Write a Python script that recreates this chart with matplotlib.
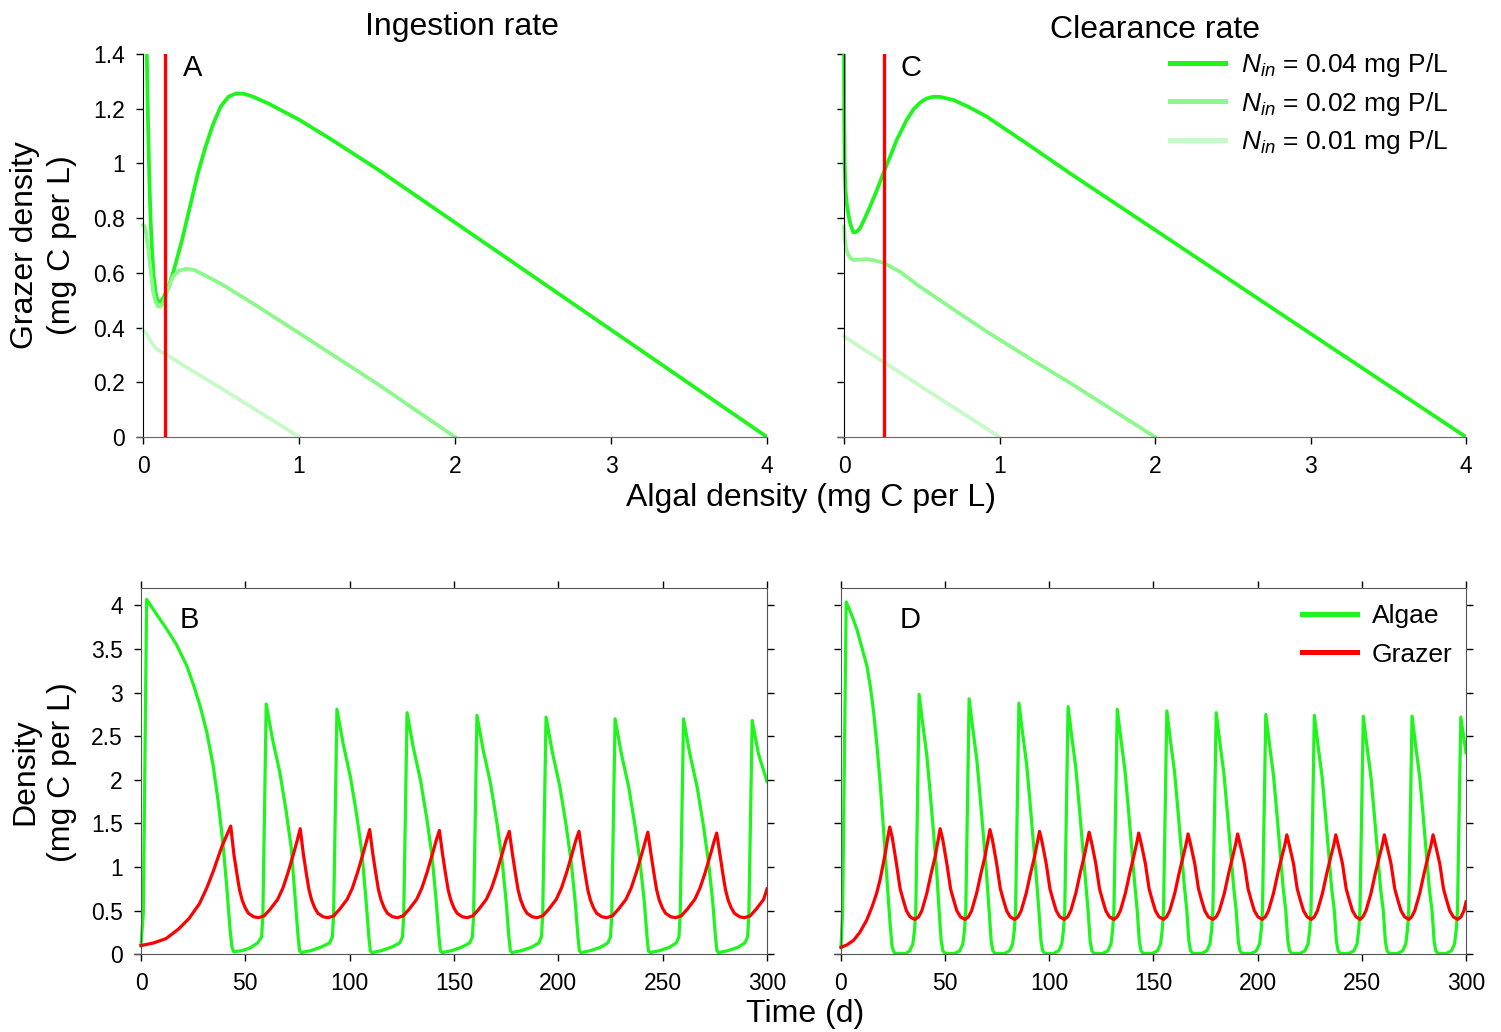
import matplotlib
matplotlib.use('Agg')
import matplotlib.pyplot as plt
from matplotlib.lines import Line2D

plt.rcParams['font.family'] = ['Liberation Sans', 'DejaVu Sans']
plt.rcParams['mathtext.fontset'] = 'custom'
plt.rcParams['mathtext.rm'] = 'Liberation Sans'
plt.rcParams['mathtext.it'] = 'Liberation Sans:italic'

GREEN = '#1df51d'
GREEN_MID = '#8cf88c'
GREEN_LIGHT = '#c8fac8'
RED = '#ff0000'

# ---- top panels: grazer nullclines (algal density vs grazer density) ----
# A: ingestion rate
xa_hi = [0.018, 0.024, 0.032, 0.040, 0.048, 0.058, 0.068, 0.080, 0.092, 0.105,
         0.120, 0.140, 0.170, 0.200, 0.250, 0.300, 0.350, 0.400, 0.450, 0.500,
         0.550, 0.600, 0.650, 0.700, 0.800, 0.900, 1.000, 1.200, 1.500, 2.000,
         2.500, 3.000, 3.500, 4.000]
ya_hi = [1.55, 1.40, 1.15, 0.95, 0.80, 0.68, 0.59, 0.53, 0.50, 0.494,
         0.50, 0.52, 0.56, 0.615, 0.72, 0.84, 0.96, 1.06, 1.145, 1.21,
         1.245, 1.256, 1.254, 1.245, 1.22, 1.19, 1.16, 1.09, 0.98, 0.784,
         0.588, 0.392, 0.196, 0.0]
xa_mid = [0.0, 0.010, 0.020, 0.035, 0.050, 0.065, 0.080, 0.095, 0.110, 0.130,
          0.160, 0.190, 0.230, 0.280, 0.330, 0.400, 0.500, 0.700, 1.000, 1.500, 2.000]
ya_mid = [0.775, 0.77, 0.745, 0.68, 0.60, 0.53, 0.495, 0.478, 0.476, 0.49,
          0.54, 0.585, 0.608, 0.615, 0.61, 0.59, 0.56, 0.49, 0.38, 0.195, 0.0]
xa_lo = [0.0, 0.020, 0.050, 0.080, 0.120, 0.160, 0.250, 0.500, 0.750, 1.000]
ya_lo = [0.39, 0.38, 0.35, 0.325, 0.31, 0.298, 0.265, 0.178, 0.09, 0.0]
algae_nullcline_a = 0.14

# C: clearance rate
xc_hi = [0.0, 0.001, 0.004, 0.010, 0.018, 0.028, 0.040, 0.060, 0.080, 0.103,
         0.130, 0.167, 0.210, 0.253, 0.300, 0.339, 0.403, 0.450, 0.489, 0.530,
         0.574, 0.620, 0.703, 0.800, 0.918, 1.200, 1.453, 2.000, 3.000, 4.000]
yc_hi = [1.45, 1.20, 1.00, 0.90, 0.85, 0.815, 0.78, 0.748, 0.75, 0.763,
         0.795, 0.842, 0.90, 0.964, 1.03, 1.086, 1.159, 1.20, 1.222, 1.237,
         1.244, 1.243, 1.232, 1.207, 1.171, 1.063, 0.964, 0.757, 0.378, 0.0]
xc_mid = [0.0, 0.006, 0.015, 0.028, 0.045, 0.060, 0.100, 0.146, 0.200, 0.253,
          0.300, 0.360, 0.489, 0.700, 0.918, 1.200, 1.453, 2.000]
yc_mid = [0.769, 0.72, 0.685, 0.665, 0.652, 0.647, 0.648, 0.650, 0.645, 0.637,
          0.622, 0.604, 0.549, 0.468, 0.385, 0.285, 0.198, 0.0]
xc_lo = [0.0, 0.020, 0.100, 0.253, 0.500, 0.750, 1.000]
yc_lo = [0.368, 0.36, 0.33, 0.275, 0.183, 0.092, 0.0]
algae_nullcline_c = 0.257

nin_labels = [r'$N_{in}$ = 0.04 mg P/L', r'$N_{in}$ = 0.02 mg P/L', r'$N_{in}$ = 0.01 mg P/L']

# ---- bottom panels: time series ----
# B: ingestion rate
t_b_algae = [0.0, 1.1, 2.7, 6.0, 12.3, 17.0, 21.9, 25.0, 28.3, 31.5, 34.6, 37.0, 39.4, 41.0, 42.7, 43.6, 44.4, 48.0, 52.0, 55.9, 57.8, 58.4,
             60.0, 63.0, 66.5, 69.5, 72.0, 74.0, 75.3, 76.0, 76.8, 81.0, 86.0, 90.4, 91.7, 92.3,
             93.9, 96.9, 100.4, 103.4, 105.9, 107.9, 109.2, 109.9, 110.7, 114.9, 119.9, 124.0, 125.3, 125.9,
             127.5, 130.5, 134.0, 137.0, 139.5, 141.5, 142.8, 143.5, 144.3, 148.5, 153.5, 157.5, 158.8, 159.4,
             161.0, 164.0, 167.5, 170.5, 173.0, 175.0, 176.3, 177.0, 177.8, 182.0, 187.0, 190.6, 191.9, 192.5,
             194.1, 197.1, 200.6, 203.6, 206.1, 208.1, 209.4, 210.1, 210.9, 215.1, 220.1, 223.7, 225.0, 225.6,
             227.2, 230.2, 233.7, 236.7, 239.2, 241.2, 242.5, 243.2, 244.0, 248.2, 253.2, 256.5, 257.8, 258.4,
             260.0, 263.0, 266.5, 269.5, 272.0, 274.0, 275.3, 276.0, 276.8, 281.0, 286.0, 289.4, 290.7, 291.3,
             292.9, 295.9, 300.0]
b_algae = [0.10, 0.47, 4.07, 3.95, 3.73, 3.55, 3.31, 3.10, 2.85, 2.55, 2.16, 1.75, 1.24, 0.80, 0.28, 0.08, 0.03, 0.04, 0.07, 0.13, 0.20, 0.45,
           2.87, 2.47, 2.09, 1.65, 1.22, 0.60, 0.20, 0.04, 0.02, 0.04, 0.08, 0.13, 0.20, 0.45,
           2.81, 2.41, 2.03, 1.59, 1.16, 0.60, 0.20, 0.04, 0.02, 0.04, 0.08, 0.13, 0.20, 0.45,
           2.77, 2.37, 1.99, 1.55, 1.12, 0.60, 0.20, 0.04, 0.02, 0.04, 0.08, 0.13, 0.20, 0.45,
           2.74, 2.34, 1.96, 1.52, 1.09, 0.60, 0.20, 0.04, 0.02, 0.04, 0.08, 0.13, 0.20, 0.45,
           2.72, 2.32, 1.94, 1.50, 1.07, 0.60, 0.20, 0.04, 0.02, 0.04, 0.08, 0.13, 0.20, 0.45,
           2.70, 2.30, 1.92, 1.48, 1.05, 0.60, 0.20, 0.04, 0.02, 0.04, 0.08, 0.13, 0.20, 0.45,
           2.70, 2.30, 1.92, 1.48, 1.05, 0.60, 0.20, 0.04, 0.02, 0.04, 0.08, 0.13, 0.20, 0.45,
           2.68, 2.30, 1.98]

t_b_grazer = [0.0, 6.0, 12.0, 18.0, 23.0, 28.0, 31.5, 34.6, 36.8, 38.8, 41.0, 43.0,
              44.5, 45.9, 47.2, 48.5, 50.0, 51.5, 54.0, 56.3, 59.0, 62.0, 65.5, 68.0, 70.5, 73.3, 74.8, 76.3,
              77.8, 79.2, 80.5, 81.8, 83.3, 84.8, 87.3, 89.6, 92.3, 95.3, 98.8, 101.3, 103.8, 106.6, 108.1, 109.6,
              111.1, 112.5, 113.8, 115.1, 116.6, 118.1, 120.6, 122.9, 125.6, 128.6, 132.1, 134.6, 137.1, 139.9, 141.4, 143.0,
              144.5, 145.9, 147.2, 148.5, 150.0, 151.5, 154.0, 156.3, 159.0, 162.0, 165.5, 168.0, 170.5, 173.3, 174.8, 176.5,
              178.0, 179.4, 180.7, 182.0, 183.5, 185.0, 187.5, 189.8, 192.5, 195.5, 199.0, 201.5, 204.0, 206.8, 208.3, 209.9,
              211.4, 212.8, 214.1, 215.4, 216.9, 218.4, 220.9, 223.2, 225.9, 228.9, 232.4, 234.9, 237.4, 240.2, 241.7, 242.9,
              244.4, 245.8, 247.1, 248.4, 249.9, 251.4, 253.9, 256.2, 258.9, 261.9, 265.4, 267.9, 270.4, 273.2, 274.7, 275.9,
              277.4, 278.8, 280.1, 281.4, 282.9, 284.4, 286.9, 289.2, 291.9, 294.9, 298.4, 300.0]
b_grazer = [0.10, 0.13, 0.18, 0.29, 0.41, 0.58, 0.76, 0.95, 1.10, 1.24, 1.36, 1.47,
            1.15, 0.93, 0.74, 0.62, 0.53, 0.47, 0.43, 0.42, 0.44, 0.52, 0.63, 0.76, 0.94, 1.17, 1.30, 1.44,
            1.15, 0.93, 0.74, 0.62, 0.53, 0.47, 0.43, 0.42, 0.44, 0.52, 0.63, 0.76, 0.94, 1.17, 1.30, 1.43,
            1.15, 0.93, 0.74, 0.62, 0.53, 0.47, 0.43, 0.42, 0.44, 0.52, 0.63, 0.76, 0.94, 1.17, 1.30, 1.42,
            1.15, 0.93, 0.74, 0.62, 0.53, 0.47, 0.43, 0.42, 0.44, 0.52, 0.63, 0.76, 0.94, 1.17, 1.30, 1.41,
            1.15, 0.93, 0.74, 0.62, 0.53, 0.47, 0.43, 0.42, 0.44, 0.52, 0.63, 0.76, 0.94, 1.17, 1.30, 1.41,
            1.15, 0.93, 0.74, 0.62, 0.53, 0.47, 0.43, 0.42, 0.44, 0.52, 0.63, 0.76, 0.94, 1.17, 1.30, 1.40,
            1.15, 0.93, 0.74, 0.62, 0.53, 0.47, 0.43, 0.42, 0.44, 0.52, 0.63, 0.76, 0.94, 1.17, 1.30, 1.39,
            1.15, 0.93, 0.74, 0.62, 0.53, 0.47, 0.43, 0.42, 0.44, 0.52, 0.63, 0.75]

# D: clearance rate
t_d_algae = [0.0, 0.8, 2.5, 5.0, 7.7, 10.0, 12.5, 14.2, 15.7, 17.3, 18.9, 20.5, 22.1, 23.4, 24.5, 25.5, 26.5, 31.0, 33.0, 34.5, 35.3, 35.9,
             37.5, 39.3, 41.2, 42.8, 44.3, 45.8, 47.1, 48.1, 48.9, 50.0, 54.5, 57.0, 58.5, 59.3, 59.9,
             61.5, 63.3, 65.2, 66.8, 68.3, 69.8, 71.1, 72.1, 72.9, 74.0, 78.4, 80.9, 82.4, 83.2, 83.8,
             85.4, 87.2, 89.1, 90.7, 92.2, 93.7, 95.0, 96.0, 96.8, 97.9, 102.0, 104.5, 106.0, 106.8, 107.4,
             109.0, 110.8, 112.7, 114.3, 115.8, 117.3, 118.6, 119.6, 120.4, 121.5, 125.6, 128.1, 129.6, 130.4, 131.0,
             132.6, 134.4, 136.3, 137.9, 139.4, 140.9, 142.2, 143.2, 144.0, 145.1, 149.4, 151.9, 153.4, 154.2, 154.8,
             156.4, 158.2, 160.1, 161.7, 163.2, 164.7, 166.0, 167.0, 167.8, 168.9, 173.1, 175.6, 177.1, 177.9, 178.5,
             180.1, 181.9, 183.8, 185.4, 186.9, 188.4, 189.7, 190.7, 191.5, 192.6, 196.9, 199.4, 200.9, 201.7, 202.3,
             203.9, 205.7, 207.6, 209.2, 210.7, 212.2, 213.5, 214.5, 215.3, 216.4, 220.2, 222.7, 224.2, 225.0, 225.6,
             227.2, 229.0, 230.9, 232.5, 234.0, 235.5, 236.8, 237.8, 238.6, 239.7, 243.7, 246.2, 247.7, 248.5, 249.1,
             250.7, 252.5, 254.4, 256.0, 257.5, 259.0, 260.3, 261.3, 262.1, 263.2, 267.1, 269.6, 271.1, 271.9, 272.5,
             274.1, 275.9, 277.8, 279.4, 280.9, 282.4, 283.7, 284.7, 285.5, 286.6, 290.5, 293.0, 294.5, 295.3, 295.9,
             297.5, 299.3, 300.0]
d_algae = [0.08, 0.50, 4.04, 3.90, 3.72, 3.52, 3.30, 3.05, 2.77, 2.38, 1.93, 1.40, 0.85, 0.40, 0.09, 0.02, 0.01, 0.01, 0.04, 0.12, 0.28, 0.50,
           2.98, 2.63, 2.28, 1.85, 1.43, 1.00, 0.50, 0.15, 0.04, 0.01, 0.01, 0.04, 0.12, 0.28, 0.50,
           2.93, 2.58, 2.23, 1.80, 1.38, 0.95, 0.50, 0.15, 0.04, 0.01, 0.01, 0.04, 0.12, 0.28, 0.50,
           2.88, 2.53, 2.18, 1.75, 1.33, 0.90, 0.50, 0.15, 0.04, 0.01, 0.01, 0.04, 0.12, 0.28, 0.50,
           2.84, 2.49, 2.14, 1.71, 1.29, 0.86, 0.50, 0.15, 0.04, 0.01, 0.01, 0.04, 0.12, 0.28, 0.50,
           2.81, 2.46, 2.11, 1.68, 1.26, 0.83, 0.50, 0.15, 0.04, 0.01, 0.01, 0.04, 0.12, 0.28, 0.50,
           2.79, 2.44, 2.09, 1.66, 1.24, 0.81, 0.50, 0.15, 0.04, 0.01, 0.01, 0.04, 0.12, 0.28, 0.50,
           2.77, 2.42, 2.07, 1.64, 1.22, 0.79, 0.50, 0.15, 0.04, 0.01, 0.01, 0.04, 0.12, 0.28, 0.50,
           2.75, 2.40, 2.05, 1.62, 1.20, 0.77, 0.50, 0.15, 0.04, 0.01, 0.01, 0.04, 0.12, 0.28, 0.50,
           2.74, 2.39, 2.04, 1.61, 1.19, 0.76, 0.50, 0.15, 0.04, 0.01, 0.01, 0.04, 0.12, 0.28, 0.50,
           2.73, 2.38, 2.03, 1.60, 1.18, 0.75, 0.50, 0.15, 0.04, 0.01, 0.01, 0.04, 0.12, 0.28, 0.50,
           2.73, 2.38, 2.03, 1.60, 1.18, 0.75, 0.50, 0.15, 0.04, 0.01, 0.01, 0.04, 0.12, 0.28, 0.50,
           2.72, 2.42, 2.31]

t_d_grazer = [0.0, 3.0, 6.0, 9.0, 12.3, 15.0, 17.1, 18.8, 20.3, 21.7, 22.6, 23.4,
              24.6, 26.6, 28.4, 29.9, 31.4, 33.1, 35.4, 37.3, 38.8, 41.2, 43.3, 45.2, 46.6, 47.6,
              48.8, 50.8, 52.6, 54.1, 55.6, 57.3, 59.5, 61.2, 62.7, 65.1, 67.2, 69.1, 70.5, 71.5,
              72.7, 74.7, 76.5, 78.0, 79.5, 81.2, 83.4, 85.0, 86.5, 88.9, 91.0, 92.9, 94.3, 95.3,
              96.5, 98.5, 100.3, 101.8, 103.3, 105.0, 107.2, 108.8, 110.3, 112.7, 114.8, 116.7, 118.1, 119.1,
              120.3, 122.3, 124.1, 125.6, 127.1, 128.8, 131.0, 132.6, 134.1, 136.5, 138.6, 140.5, 141.9, 142.9,
              144.1, 146.1, 147.9, 149.4, 150.9, 152.6, 154.8, 156.3, 157.8, 160.2, 162.3, 164.2, 165.6, 166.6,
              167.8, 169.8, 171.6, 173.1, 174.6, 176.3, 178.5, 180.1, 181.6, 184.0, 186.1, 188.0, 189.4, 190.4,
              191.6, 193.6, 195.4, 196.9, 198.4, 200.1, 202.2, 203.7, 205.2, 207.6, 209.7, 211.6, 213.0, 214.0,
              215.2, 217.2, 219.0, 220.5, 222.0, 223.7, 225.8, 227.2, 228.7, 231.1, 233.2, 235.1, 236.5, 237.5,
              238.7, 240.7, 242.5, 244.0, 245.5, 247.2, 249.2, 250.5, 252.0, 254.4, 256.5, 258.4, 259.8, 260.8,
              262.0, 264.0, 265.8, 267.3, 268.8, 270.5, 272.6, 273.9, 275.4, 277.8, 279.9, 281.8, 283.2, 284.2,
              285.4, 287.4, 289.2, 290.7, 292.2, 293.9, 296.0, 297.6, 299.0, 300.0]
d_grazer = [0.08, 0.11, 0.16, 0.25, 0.39, 0.55, 0.70, 0.86, 1.04, 1.22, 1.36, 1.46,
            1.34, 1.04, 0.75, 0.62, 0.50, 0.43, 0.40, 0.43, 0.50, 0.70, 0.93, 1.12, 1.31, 1.44,
            1.32, 1.04, 0.75, 0.62, 0.50, 0.43, 0.40, 0.43, 0.50, 0.70, 0.93, 1.12, 1.30, 1.43,
            1.31, 1.04, 0.75, 0.62, 0.50, 0.43, 0.40, 0.43, 0.50, 0.70, 0.93, 1.12, 1.29, 1.41,
            1.29, 1.04, 0.75, 0.62, 0.50, 0.43, 0.40, 0.43, 0.50, 0.70, 0.93, 1.12, 1.28, 1.40,
            1.28, 1.04, 0.75, 0.62, 0.50, 0.43, 0.40, 0.43, 0.50, 0.70, 0.93, 1.12, 1.27, 1.39,
            1.27, 1.04, 0.75, 0.62, 0.50, 0.43, 0.40, 0.43, 0.50, 0.70, 0.93, 1.12, 1.26, 1.38,
            1.26, 1.04, 0.75, 0.62, 0.50, 0.43, 0.40, 0.43, 0.50, 0.70, 0.93, 1.12, 1.26, 1.38,
            1.26, 1.04, 0.75, 0.62, 0.50, 0.43, 0.40, 0.43, 0.50, 0.70, 0.93, 1.12, 1.25, 1.37,
            1.25, 1.04, 0.75, 0.62, 0.50, 0.43, 0.40, 0.43, 0.50, 0.70, 0.93, 1.12, 1.25, 1.37,
            1.25, 1.04, 0.75, 0.62, 0.50, 0.43, 0.40, 0.43, 0.50, 0.70, 0.93, 1.12, 1.25, 1.37,
            1.25, 1.04, 0.75, 0.62, 0.50, 0.43, 0.40, 0.43, 0.50, 0.70, 0.93, 1.12, 1.25, 1.37,
            1.25, 1.04, 0.75, 0.62, 0.50, 0.43, 0.40, 0.43, 0.50, 0.60]

top_yticks = [0, 0.2, 0.4, 0.6, 0.8, 1.0, 1.2, 1.4]
top_yticklabels = ['0', '0.2', '0.4', '0.6', '0.8', '1', '1.2', '1.4']
top_xticks = [0, 1, 2, 3, 4]
bot_yticks = [0, 0.5, 1, 1.5, 2, 2.5, 3, 3.5, 4]
bot_yticklabels = ['0', '0.5', '1', '1.5', '2', '2.5', '3', '3.5', '4']
bot_xticks = [0, 50, 100, 150, 200, 250, 300]

TICK_FS = 16.5
LABEL_FS = 23
W, H = 1501, 1032


def style_top(ax, show_ylabels):
    ax.set_xlim(-0.04, 4)
    ax.set_ylim(0, 1.4)
    ax.spines['top'].set_visible(False)
    ax.spines['right'].set_visible(False)
    ax.spines['left'].set_position(('data', 0))
    ax.spines['bottom'].set_color('#666666')
    ax.set_xticks(top_xticks)
    ax.set_xticklabels([str(v) for v in top_xticks])
    ax.set_yticks(top_yticks)
    if show_ylabels:
        ax.set_yticklabels(top_yticklabels)
    else:
        ax.set_yticklabels([])
    ax.tick_params(direction='out', length=5, width=1, labelsize=TICK_FS, pad=8)


def style_bottom(ax, show_ylabels):
    ax.set_xlim(-3.5, 300)
    ax.set_ylim(0, 4.2)
    ax.spines['left'].set_position(('data', 0))
    ax.spines['top'].set_bounds(0, 300)
    for s in ax.spines.values():
        s.set_color('#555555')
    ax.set_xticks(bot_xticks)
    ax.set_xticklabels([str(v) for v in bot_xticks])
    ax.set_yticks(bot_yticks)
    if show_ylabels:
        ax.set_yticklabels(bot_yticklabels)
    else:
        ax.set_yticklabels([])
    ax.tick_params(direction='out', length=5, width=1, labelsize=TICK_FS, pad=8,
                   top=True, right=True, labeltop=False, labelright=False)


fig = plt.figure(figsize=(W / 100, H / 100), dpi=100)

ax_a = fig.add_axes([136.8 / W, 1 - 437 / H, (767 - 136.8) / W, 383 / H])
ax_c = fig.add_axes([837.8 / W, 1 - 437 / H, (1466 - 837.8) / W, 383 / H])
ax_b = fig.add_axes([133.7 / W, 1 - 954.3 / H, (767 - 133.7) / W, 366.3 / H])
ax_d = fig.add_axes([833.7 / W, 1 - 954.3 / H, (1466 - 833.7) / W, 366.3 / H])

LW_TOP = 2.7
ax_a.plot(xa_lo, ya_lo, color=GREEN_LIGHT, lw=LW_TOP)
ax_a.plot(xa_hi, ya_hi, color=GREEN, lw=LW_TOP)
ax_a.plot(xa_mid, ya_mid, color=GREEN_MID, lw=LW_TOP)
ax_a.axvline(algae_nullcline_a, color=RED, lw=2.4)
style_top(ax_a, True)

ax_c.plot(xc_lo, yc_lo, color=GREEN_LIGHT, lw=LW_TOP)
ax_c.plot(xc_mid, yc_mid, color=GREEN_MID, lw=LW_TOP)
ax_c.plot(xc_hi, yc_hi, color=GREEN, lw=LW_TOP)
ax_c.axvline(algae_nullcline_c, color=RED, lw=2.4)
style_top(ax_c, False)

LW_BOT = 2.3
ax_b.plot(t_b_algae, b_algae, color=GREEN, lw=LW_BOT)
ax_b.plot(t_b_grazer, b_grazer, color=RED, lw=LW_BOT)
style_bottom(ax_b, True)

ax_d.plot(t_d_algae, d_algae, color=GREEN, lw=LW_BOT)
ax_d.plot(t_d_grazer, d_grazer, color=RED, lw=LW_BOT)
style_bottom(ax_d, False)

# legends
nin_handles = [Line2D([], [], color=c, lw=3.6) for c in (GREEN, GREEN_MID, GREEN_LIGHT)]
ax_c.legend(nin_handles, nin_labels, loc='upper left', bbox_to_anchor=(1170 / W, 1 - 51 / H),
            bbox_transform=fig.transFigure, frameon=False, fontsize=19, borderpad=0,
            borderaxespad=0, handlelength=2.1, handletextpad=0.6, labelspacing=0.4)
ts_handles = [Line2D([], [], color=GREEN, lw=3.6), Line2D([], [], color=RED, lw=3.6)]
ax_d.legend(ts_handles, ['Algae', 'Grazer'], loc='upper left', bbox_to_anchor=(1302 / W, 1 - 604 / H),
            bbox_transform=fig.transFigure, frameon=False, fontsize=19, borderpad=0,
            borderaxespad=0, handlelength=2.1, handletextpad=0.55, labelspacing=0.55)

# panel letters
for x, y, s in [(183, 68, 'A'), (900, 68, 'C'), (180, 620, 'B'), (900, 620, 'D')]:
    fig.text(x / W, 1 - y / H, s, fontsize=21, ha='left', va='center')

# titles and axis labels
fig.text(462 / W, 1 - 27 / H, 'Ingestion rate', fontsize=LABEL_FS, ha='center', va='center')
fig.text(1155 / W, 1 - 30 / H, 'Clearance rate', fontsize=LABEL_FS, ha='center', va='center')
fig.text(811 / W, 1 - 498 / H, 'Algal density (mg C per L)', fontsize=LABEL_FS, ha='center', va='center')
fig.text(805 / W, 1 - 1014 / H, 'Time (d)', fontsize=LABEL_FS, ha='center', va='center')
fig.text(25 / W, 1 - 245 / H, 'Grazer density', fontsize=LABEL_FS, rotation=90, ha='center', va='center')
fig.text(62 / W, 1 - 245 / H, '(mg C per L)', fontsize=LABEL_FS, rotation=90, ha='center', va='center')
fig.text(25 / W, 1 - 772 / H, 'Density', fontsize=LABEL_FS, rotation=90, ha='center', va='center')
fig.text(62 / W, 1 - 772 / H, '(mg C per L)', fontsize=LABEL_FS, rotation=90, ha='center', va='center')

fig.savefig('out.png', dpi=100)
